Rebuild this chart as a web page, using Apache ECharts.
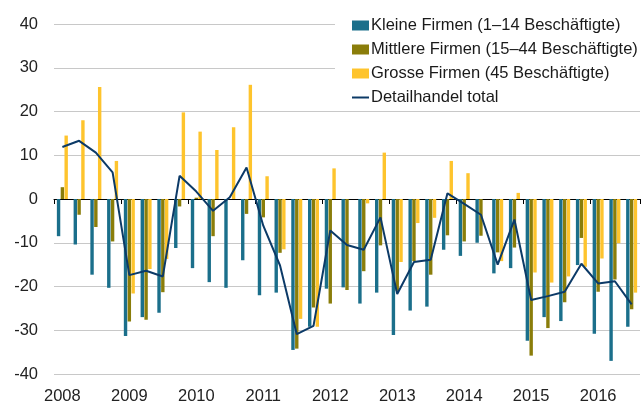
<!DOCTYPE html>
<html>
<head>
<meta charset="utf-8">
<script src="https://cdn.jsdelivr.net/npm/echarts@6/dist/echarts.min.js"></script>
<style>
html,body{margin:0;padding:0;background:#fff;}
#chart{width:642px;height:405px;}
</style>
</head>
<body>
<div id="chart"></div>
<script>
var quarters = [
  '2008 Q1','2008 Q2','2008 Q3','2008 Q4',
  '2009 Q1','2009 Q2','2009 Q3','2009 Q4',
  '2010 Q1','2010 Q2','2010 Q3','2010 Q4',
  '2011 Q1','2011 Q2','2011 Q3','2011 Q4',
  '2012 Q1','2012 Q2','2012 Q3','2012 Q4',
  '2013 Q1','2013 Q2','2013 Q3','2013 Q4',
  '2014 Q1','2014 Q2','2014 Q3','2014 Q4',
  '2015 Q1','2015 Q2','2015 Q3','2015 Q4',
  '2016 Q1','2016 Q2','2016 Q3'
];
var seriesNames = [
  'Kleine Firmen (1\u201314 Besch\u00e4ftigte)',
  'Mittlere Firmen (15\u201344 Besch\u00e4ftigte)',
  'Grosse Firmen (45 Besch\u00e4ftigte)',
  'Detailhandel total'
];
var kleine = [
  -8.5, -10.4, -17.3, -20.3,
  -31.3, -27, -26, -11.2,
  -15.8, -19, -20.3, -14,
  -22, -21.4, -34.5, -29.2,
  -20.5, -20.2, -23.9, -21.4,
  -31.1, -25.5, -24.6, -11.6,
  -13, -10, -17, -15.8,
  -32.4, -27, -27.9, -15.1,
  -30.8, -37, -29.2
];
var mittlere = [
  2.7, -3.6, -6.4, -9.7,
  -28, -27.6, -21.3, -1.7,
  0.3, -8.5, 0, -3.4,
  -4.2, -12.3, -34.2, -24.8,
  -23.9, -20.8, -16.5, -10.6,
  -21, -14.2, -17.3, -8.3,
  -9.7, -8.4, -12.2, -11.1,
  -35.8, -29.5, -23.6, -8.9,
  -21.2, -18.4, -25.2
];
var grosse = [
  14.5, 18, 25.6, 8.7,
  -21.6, -16, -13.7, 19.8,
  15.4, 11.2, 16.4, 26.1,
  5.2, -11.5, -27.4, -29.2,
  7, 0, -1, 10.6,
  -14.4, -5.5, -4.3, 8.7,
  5.9, 0, -14.2, 1.4,
  -16.8, -19.1, -17.7, -15.5,
  -13.6, -10.1, -21.4
];
var total = [
  11.9, 13.3, 10.6, 6.1,
  -17.4, -16.4, -17.7, 5.3,
  1.7, -2.7, 0.4, 7.2,
  -6.1, -15.2, -30.9, -29,
  -7.2, -10.5, -11.6, -4.2,
  -21.7, -14.4, -13.9, 1.3,
  -1.1, -3.6, -15, -4.7,
  -23.1, -22.2, -21.2, -14.8,
  -19.3, -18.8, -24.1
];
var yTicks = { min: -40, max: 40, interval: 10 };

var FONT = '"Liberation Sans", Arial, Helvetica, sans-serif';
var chart = echarts.init(document.getElementById('chart'), null, { renderer: 'canvas' });
chart.setOption({
  animation: false,
  backgroundColor: '#ffffff',
  textStyle: { fontFamily: FONT },
  grid: { left: 54, right: 2, top: 24, bottom: 29, containLabel: false },
  legend: {
    orient: 'vertical',
    left: 335,
    top: 9,
    padding: [8, 4, 4, 17],
    backgroundColor: '#ffffff',
    itemWidth: 17,
    itemHeight: 10,
    itemGap: 7,
    symbolKeepAspect: true,
    textStyle: { fontFamily: FONT, fontSize: 16.5, color: '#1a1a1a', padding: [0, 0, 0, -3] },
    data: [
      { name: seriesNames[0], icon: 'rect' },
      { name: seriesNames[1], icon: 'rect' },
      { name: seriesNames[2], icon: 'rect' },
      { name: seriesNames[3], icon: 'path://M0,0 L17,0 L17,2 L0,2 Z' }
    ]
  },
  xAxis: [
    {
      type: 'category',
      data: quarters,
      boundaryGap: true,
      position: 'bottom',
      axisLine: { show: true, onZero: true, lineStyle: { color: '#000000', width: 1 } },
      axisTick: { show: true, interval: 3, length: 5, lineStyle: { color: '#000000', width: 1 } },
      axisLabel: { show: false },
      splitLine: { show: false }
    },
    {
      type: 'category',
      data: quarters,
      boundaryGap: true,
      position: 'bottom',
      axisLine: { show: false, onZero: false },
      axisTick: { show: false },
      axisLabel: {
        show: true, interval: 3, margin: 14,
        fontFamily: FONT, fontSize: 16.5, color: '#222222',
        formatter: function (v) { return v.split(' ')[0]; }
      },
      splitLine: { show: false }
    }
  ],
  yAxis: {
    type: 'value',
    min: yTicks.min, max: yTicks.max, interval: yTicks.interval,
    axisLine: { show: false },
    axisTick: { show: false },
    axisLabel: { fontFamily: FONT, fontSize: 16.5, color: '#222222', margin: 16 },
    splitLine: { show: true, lineStyle: { color: '#c8c8c8', width: 1 } }
  },
  series: [
    {
      name: seriesNames[0], type: 'bar', data: kleine, xAxisIndex: 0,
      barWidth: 3.4, barGap: '12%',
      itemStyle: { color: '#1b6f8b' }
    },
    {
      name: seriesNames[1], type: 'bar', data: mittlere, xAxisIndex: 0,
      barWidth: 3.4, barGap: '12%',
      itemStyle: { color: '#8a7d0a' }
    },
    {
      name: seriesNames[2], type: 'bar', data: grosse, xAxisIndex: 0,
      barWidth: 3.4, barGap: '12%',
      itemStyle: { color: '#fec42d' }
    },
    {
      name: seriesNames[3], type: 'line', data: total, xAxisIndex: 0,
      symbol: 'none', z: 5,
      lineStyle: { color: '#0c3a67', width: 2 },
      itemStyle: { color: '#0c3a67' }
    }
  ]
});
</script>
</body>
</html>
